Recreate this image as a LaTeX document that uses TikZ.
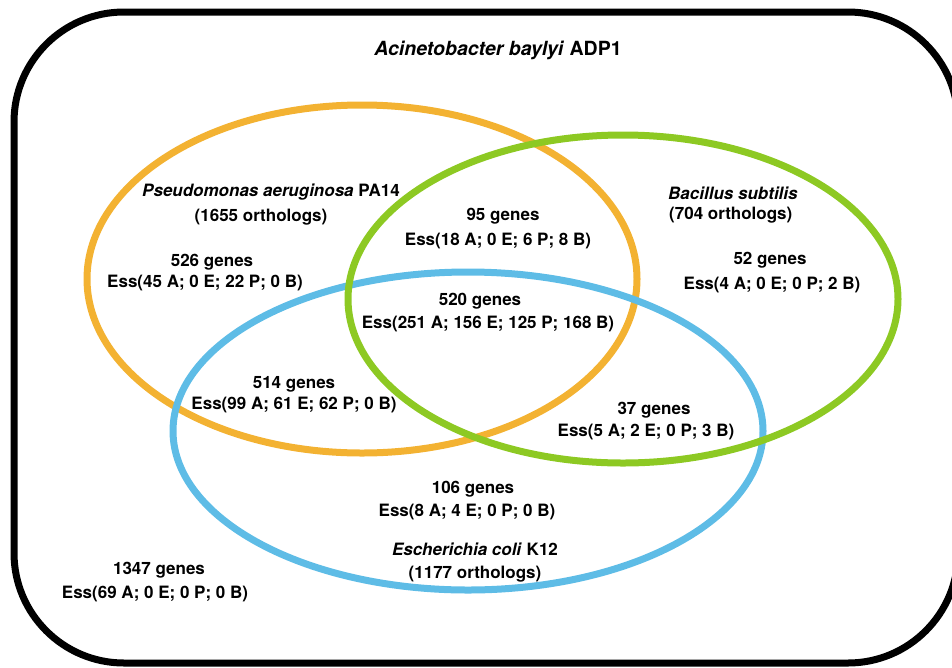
\documentclass[tikz,border=0pt]{standalone}
\usepackage{fontspec}
\setmainfont{TeX Gyre Heros}
\definecolor{orng}{HTML}{F3B232}
\definecolor{grn}{HTML}{8DC923}
\definecolor{blu}{HTML}{5EBCE6}
\begin{document}
\begin{tikzpicture}[x=1pt,y=-1pt,
  lbl/.style={font=\fontsize{17}{20}\selectfont\bfseries, inner sep=0pt, anchor=base},
  ttl/.style={font=\fontsize{19.5}{23}\selectfont\bfseries, inner sep=0pt, anchor=base},
  ring/.style={line width=7pt}]
\useasboundingbox (0,0) rectangle (952,667);
\begin{scope}
  \clip (0,0) rectangle (952,667);
  \draw[line width=7pt, rounded corners=110pt] (14,12) rectangle (958,663);
\end{scope}
% ellipses
\draw[ring, orng] (362,279) ellipse [x radius=275, y radius=174];
\draw[ring, blu] (468,431) ellipse [x radius=295, y radius=159];
\draw[ring, grn] (623,299) ellipse [x radius=275, y radius=164];
% labels
\node[ttl] (title) at (498,55) {\textit{Acinetobacter baylyi} ADP1};
\node[lbl] (pa) at (271,196) {\textit{Pseudomonas aeruginosa} PA14};
\node[lbl] (pao) at (261,221) {(1655 orthologs)};
\node[lbl] (pag) at (212,266) {526 genes};
\node[lbl] (pae) at (205,287) {Ess(45 A; 0 E; 22 P; 0 B)};
\node[lbl] (pbg) at (503,220) {95 genes};
\node[lbl] (pbe) at (498,245) {Ess(18 A; 0 E; 6 P; 8 B)};
\node[lbl] (allg) at (480,305) {520 genes};
\node[lbl] (alle) at (488,328) {Ess(251 A; 156 E; 125 P; 168 B)};
\node[lbl, anchor=base west] (bs) at (668,199) {\textit{Bacillus subtilis}};
\node[lbl, anchor=base west] (bso) at (669,219) {(704 orthologs)};
\node[lbl] (bsg) at (770,264) {52 genes};
\node[lbl] (bse) at (772,289) {Ess(4 A; 0 E; 0 P; 2 B)};
\node[lbl] (peg) at (294,388) {514 genes};
\node[lbl] (pee) at (294,409) {Ess(99 A; 61 E; 62 P; 0 B)};
\node[lbl] (beg) at (654,414) {37 genes};
\node[lbl] (bee) at (646,436) {Ess(5 A; 2 E; 0 P; 3 B)};
\node[lbl] (eg) at (473,493) {106 genes};
\node[lbl] (ee) at (467,516) {Ess(8 A; 4 E; 0 P; 0 B)};
\node[lbl] (ec) at (475,555) {\textit{Escherichia coli} K12};
\node[lbl] (eco) at (475,578) {(1177 orthologs)};
\node[lbl] (ag) at (159,574) {1347 genes};
\node[lbl] (ae) at (155,598) {Ess(69 A; 0 E; 0 P; 0 B)};
\end{tikzpicture}
\end{document}
